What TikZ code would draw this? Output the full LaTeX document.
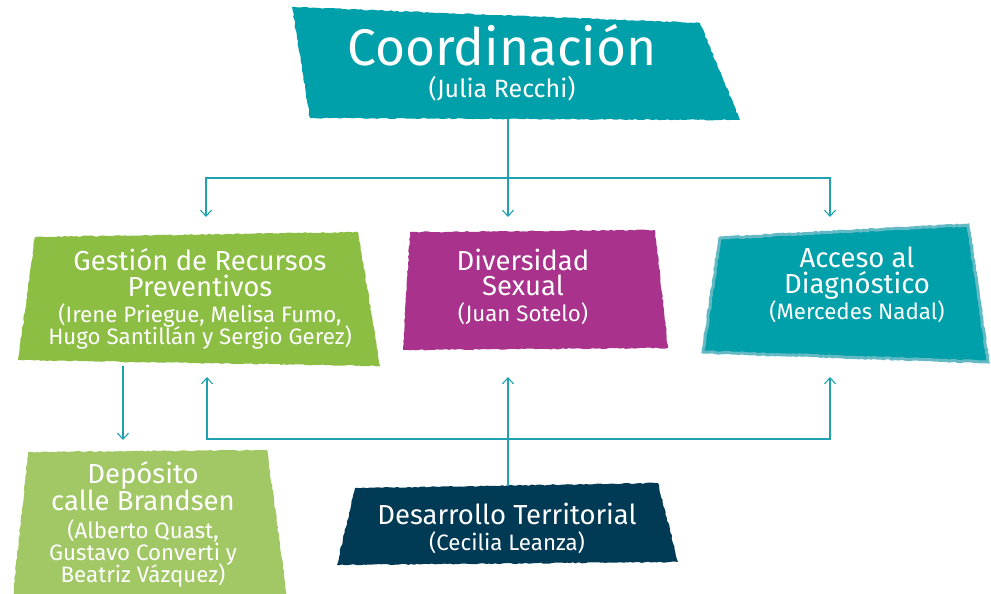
\documentclass[tikz,border=0pt]{standalone}
\usepackage{fontspec}
\setmainfont{Fira Sans}
\usetikzlibrary{arrows.meta, decorations.pathmorphing}
\definecolor{sea}{RGB}{0, 160, 170}
\definecolor{seaedge}{RGB}{100, 186, 196}
\definecolor{leaf}{RGB}{140, 190, 68}
\definecolor{leaflight}{RGB}{162, 200, 102}
\definecolor{plum}{RGB}{168, 50, 140}
\definecolor{ink}{RGB}{0, 58, 85}
\definecolor{wire}{RGB}{30, 162, 176}
\newcommand\titf{\fontsize{27.5}{25.5}\selectfont}
\newcommand\subf{\fontsize{22.3}{22}\selectfont}

\begin{document}
\begin{tikzpicture}[x=1pt, y=-1pt,
    box/.style={decorate, decoration={random steps, segment length=3pt, amplitude=0.6pt}},
    boxtext/.style={text=white, align=center, inner sep=0pt},
    link/.style={wire, line width=1.1pt, -{Straight Barb[length=6pt, width=11pt]}}]
  \pgfmathsetseed{7}
  \useasboundingbox (0, 0) rectangle (991, 594);

  % boxes
  \fill[sea, box] (292, 7) -- (700, 23) -- (740, 120) -- (310, 118) -- cycle;
  \fill[leaf, box] (35, 237) -- (358, 232) -- (380, 366) -- (18, 360) -- cycle;
  \fill[plum, box] (410, 232) -- (655, 230) -- (668, 348) -- (403, 350) -- cycle;
  \filldraw[fill=sea, draw=seaedge, line width=3pt, box]
    (720, 238) -- (968, 225) -- (988, 362) -- (703, 352) -- cycle;
  \fill[leaflight, box] (28, 452) -- (267, 450) -- (287, 596) -- (13, 596) -- cycle;
  \fill[ink, box] (355, 488) -- (658, 483) -- (678, 562) -- (337, 565) -- cycle;

  % texts
  \node[boxtext, font=\fontsize{51.5}{32}\selectfont] (coord) at (502, 63)
    {Coordinación\\\fontsize{25}{22}\selectfont (Julia Recchi)};
  \node[boxtext, font=\titf] (gestion) at (200, 299)
    {Gestión de Recursos\\Preventivos\\[1pt]\subf (Irene Priegue, Melisa Fumo,\\[-3.5pt]\subf Hugo Santillán y Sergio Gerez)};
  \node[boxtext, font=\titf] (diversidad) at (523, 287)
    {Diversidad\\Sexual\\[0.5pt]\subf (Juan Sotelo)};
  \node[boxtext, font=\titf] (acceso) at (857, 285)
    {Acceso al\\Diagnóstico\\[0.5pt]\subf (Mercedes Nadal)};
  \node[boxtext, font=\titf] (deposito) at (143, 524)
    {Depósito\\calle Brandsen\\[2pt]\subf (Alberto Quast,\\[-3.5pt]\subf Gustavo Converti y\\[-3.5pt]\subf Beatriz Vázquez)};
  \node[boxtext, font=\titf] (desarrollo) at (507, 528)
    {Desarrollo Territorial\\[0.5pt]\subf (Cecilia Leanza)};

  % connectors
  \coordinate (coord-s) at (508, 119);
  \coordinate (hub) at (508, 178);
  \coordinate (gestion-n) at (206, 217);
  \coordinate (diversidad-n) at (508, 217);
  \coordinate (acceso-n) at (830, 217);
  \draw[link] (coord-s) -- (diversidad-n);
  \draw[link] (hub) -| (gestion-n);
  \draw[link] (hub) -| (acceso-n);

  \coordinate (gestion-s) at (123, 366);
  \coordinate (deposito-n) at (123, 440);
  \draw[link] (gestion-s) -- (deposito-n);

  \coordinate (desarrollo-n) at (508, 486);
  \coordinate (bus) at (508, 439);
  \coordinate (diversidad-s) at (508, 377);
  \coordinate (gestion-up) at (207, 377);
  \coordinate (acceso-s) at (830, 377);
  \draw[link] (desarrollo-n) -- (diversidad-s);
  \draw[link] (bus) -| (gestion-up);
  \draw[link] (bus) -| (acceso-s);
\end{tikzpicture}
\end{document}
